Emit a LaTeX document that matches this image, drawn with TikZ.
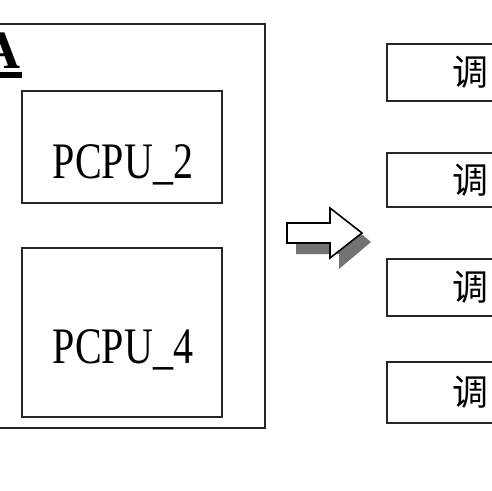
\documentclass[tikz,border=0pt]{standalone}
\usepackage{fontspec}
\usepackage{graphicx}
\setmainfont{Liberation Serif}
\newfontfamily\cjk{Noto Sans CJK SC}
\begin{document}
\begin{tikzpicture}[x=1bp,y=-1bp,
  box/.style={draw=black!85,line width=1.6bp},
  lbl/.style={font=\fontsize{40bp}{42bp}\selectfont, anchor=base, inner sep=0pt},
  cj/.style={font=\cjk\fontsize{36bp}{38bp}\selectfont, anchor=west, inner sep=0pt}]
\useasboundingbox (0,0) rectangle (491,491);
% outer box
\draw[box] (-20,24) rectangle (265,428);
\node[anchor=base east, inner sep=0pt, font=\bfseries\fontsize{54bp}{56bp}\selectfont] (A) at (21,69) {A};
\fill (-30,72) rectangle (22,78);
% PCPU boxes
\draw[box] (22,91) rectangle (222,203);
\node[lbl] (p2) at (123,179) {\scalebox{1}[1.28]{PCPU\_2}};
\draw[box] (22,248) rectangle (222,417);
\node[lbl] (p4) at (123,363) {\scalebox{1}[1.28]{PCPU\_4}};
% arrow shadow
\fill[black!55] (296,234) -- (296,254) -- (339,254) -- (339,269) -- (371,242) -- (339,215) -- (339,234) -- cycle;
% arrow
\draw[line width=1.6bp, fill=white, line join=miter] (287,223) -- (287,243) -- (330,243) -- (330,258) -- (362,233) -- (330,208) -- (330,223) -- cycle;
% right boxes
\draw[box] (387,44) rectangle (520,101);
\node[cj] (t1) at (452,72) {调};
\draw[box] (387,153) rectangle (520,207);
\node[cj] (t2) at (452,180) {调};
\draw[box] (387,259) rectangle (520,316);
\node[cj] (t3) at (452,287) {调};
\draw[box] (387,362) rectangle (520,423);
\node[cj] (t4) at (452,392) {调};
\end{tikzpicture}
\end{document}
